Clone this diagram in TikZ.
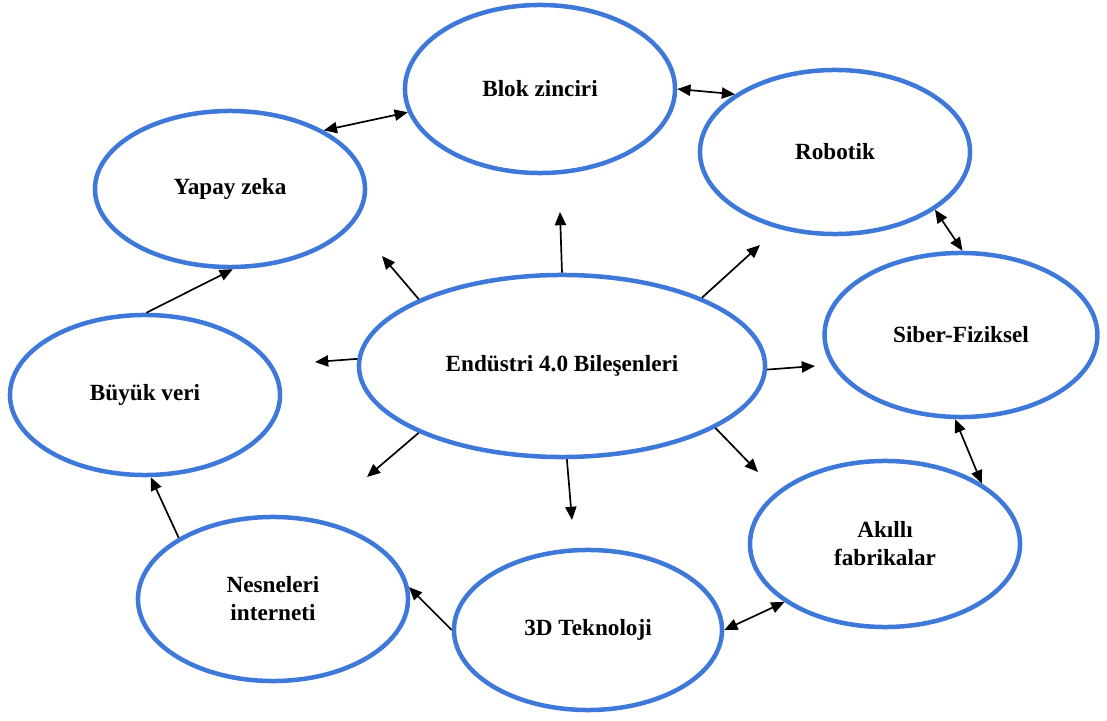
\documentclass[tikz,border=0pt]{standalone}
\usepackage{fontspec}
\setmainfont{Liberation Serif}
\usetikzlibrary{shapes.geometric,arrows.meta}
\definecolor{compblue}{RGB}{62,120,216}
\tikzset{
  comp/.style={ellipse, draw=compblue, line width=3.2pt, inner sep=0pt, align=center,
    font=\fontsize{16.5}{20}\selectfont\bfseries, minimum width=6.75cm, minimum height=4.1cm},
  link/.style={line width=1.2pt, {Triangle[length=0.33cm,width=0.28cm]}-{Triangle[length=0.33cm,width=0.28cm]}},
  onearrow/.style={line width=1.2pt, -{Triangle[length=0.33cm,width=0.28cm]}}
}
\begin{document}
\begin{tikzpicture}[x=0.025cm, y=-0.025cm]
		    \useasboundingbox (0,0) rectangle (1107,721);
		    \node (endu) at (562, 366) [comp, minimum width=10.15cm, minimum height=4.55cm] {Endüstri 4.0 Bileşenleri};
		    \node (blok) at (540, 89) [comp, minimum height=4.2cm] {Blok zinciri};
		    \node (robotik) at (835, 152) [comp] {Robotik};
		    \node (yapay) at (230, 189) [comp, minimum height=3.9cm] {Yapay zeka};
		    \node (siber) at (961, 335) [comp, minimum width=6.82cm] {Siber-Fiziksel};
		    \node (buyuk) at (145, 395) [comp, minimum height=4.0cm] {Büyük veri};
		    \node (akilli) at (885, 544) [comp, minimum height=4.15cm] {Akıllı\\fabrikalar};
		    \node (nesne) at (273, 599) [comp] {Nesneleri\\interneti};
		    \node (teknoloji) at (588, 630) [comp, minimum width=6.7cm, minimum height=4.0cm] {3D Teknoloji};
		    
		    % ring links
		    \draw[link] (yapay.32) -- (blok.190);
		    \draw[link] (blok.0) -- (robotik.150);
		    \draw[link] (robotik.330) -- (siber.89);
		    \draw[link] (siber.266) -- (akilli.32);
		    \draw[link] (akilli.210) -- (teknoloji.0);
		    \draw[onearrow] (teknoloji.180) -- (nesne.5);
		    \draw[onearrow] (nesne.147) -- (buyuk.274);
		    \draw[onearrow] (buyuk.89) -- (yapay.272);
		    
		    % arrows out of the centre
		    \coordinate (n) at (560, 212);
		    \coordinate (nw) at (382, 256);
		    \coordinate (ne) at (760, 245);
		    \coordinate (w) at (315, 362);
		    \coordinate (e) at (815, 366);
		    \coordinate (sw) at (367, 477);
		    \coordinate (s) at (572, 520);
		    \coordinate (se) at (758, 472);
		    \draw[onearrow] (endu.90) -- (n);
		    \draw[onearrow] (endu.155) -- (nw);
		    \draw[onearrow] (endu.26) -- (ne);
		    \draw[onearrow] (endu.178) -- (w);
		    \draw[onearrow] (endu.359) -- (e);
		    \draw[onearrow] (endu.205) -- (sw);
		    \draw[onearrow] (endu.273) -- (s);
		    \draw[onearrow] (endu.338) -- (se);
		\end{tikzpicture}
\end{document}
